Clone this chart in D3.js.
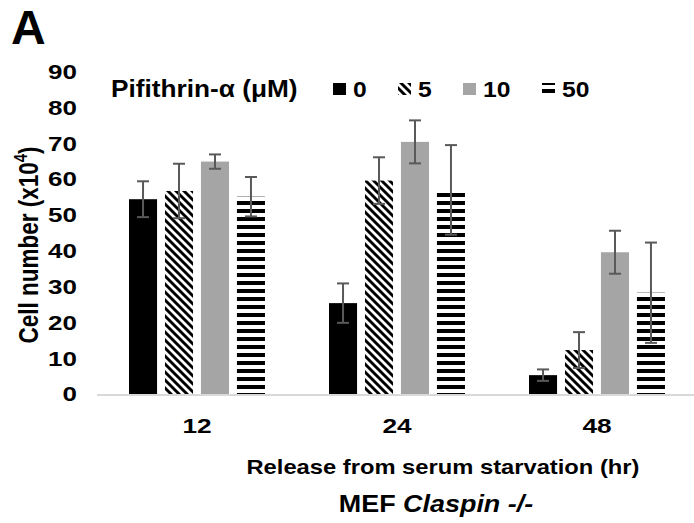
<!DOCTYPE html>
<html>
<head>
<meta charset="utf-8">
<script src="https://cdnjs.cloudflare.com/ajax/libs/d3/7.8.5/d3.min.js"></script>
<style>
  body { margin: 0; background: white; }
  text { font-family: "Liberation Sans", Arial, sans-serif; font-weight: bold; }
</style>
</head>
<body>
<script>
// hours after release, pifithrin doses
var times = ["12", "24", "48"];
var doses = ["0", "5", "10", "50"];
var yTicks = [0, 10, 20, 30, 40, 50, 60, 70, 80, 90];

// mean cell number (x10^4) per dose, one value per time point
var dose0 = [54.5, 25.5, 5.4];
var dose5 = [56.8, 59.7, 12.4];
var dose10 = [65.0, 70.5, 39.7];
var dose50 = [55.2, 57.1, 28.4];
// error (half length of error bar)
var err0 = [5.0, 5.5, 1.6];
var err5 = [7.6, 6.5, 5.0];
var err10 = [2.0, 6.0, 6.0];
var err50 = [5.5, 12.5, 14.0];

var means = [dose0, dose5, dose10, dose50];
var errs = [err0, err5, err10, err50];

var width = 694, height = 523;

var svg = d3.select("body").append("svg")
    .attr("width", width)
    .attr("height", height);

// the original figure's lettering is a bit wider than plain Arial bold
function widen(sel, f) {
    sel.each(function() {
        var len = this.getComputedTextLength();
        d3.select(this).attr("textLength", len * f).attr("lengthAdjust", "spacingAndGlyphs");
    });
}

var defs = svg.append("defs");

// wide downward diagonal
var hatch = defs.append("pattern")
    .attr("id", "hatch")
    .attr("patternUnits", "userSpaceOnUse")
    .attr("width", 8).attr("height", 8);
hatch.append("rect").attr("width", 8).attr("height", 8).attr("fill", "white");
hatch.append("path")
    .attr("d", "M-2,-2L10,10M-2,6L2,10M6,-2L10,2")
    .attr("stroke", "black")
    .attr("stroke-width", 2.9);

// wide horizontal stripes
var stripes = defs.append("pattern")
    .attr("id", "stripes")
    .attr("patternUnits", "userSpaceOnUse")
    .attr("width", 8).attr("height", 8);
stripes.append("rect").attr("width", 8).attr("height", 8).attr("fill", "white");
stripes.append("rect").attr("y", 1).attr("width", 8).attr("height", 4).attr("fill", "black");

var fills = ["#000000", "url(#hatch)", "#a5a5a5", "url(#stripes)"];

var x0 = d3.scaleBand()
    .domain(times)
    .range([97, 697]);

var x1 = d3.scaleBand()
    .domain(doses)
    .range([32, 168])
    .paddingInner(0.22);

var y = d3.scaleLinear()
    .domain([0, 90])
    .range([394.5, 72]);

// bars
var groups = svg.append("g").selectAll("g")
    .data(times)
    .enter().append("g")
    .attr("transform", function(d) { return "translate(" + x0(d) + ",0)"; });

groups.selectAll("rect")
    .data(function(t, i) {
        return doses.map(function(d, j) { return {dose: d, j: j, v: means[j][i], e: errs[j][i]}; });
    })
    .enter().append("rect")
    .attr("x", function(d) { return x1(d.dose); })
    .attr("y", function(d) { return y(d.v); })
    .attr("width", x1.bandwidth())
    .attr("height", function(d) { return y(0) - y(d.v); })
    .attr("fill", function(d) { return fills[d.j]; });

// error bars
var eb = groups.selectAll("g.err")
    .data(function(t, i) {
        return doses.map(function(d, j) { return {dose: d, v: means[j][i], e: errs[j][i]}; });
    })
    .enter().append("g")
    .attr("class", "err")
    .attr("stroke", "#595959")
    .attr("stroke-width", 2);

eb.append("line")
    .attr("x1", function(d) { return x1(d.dose) + x1.bandwidth() / 2; })
    .attr("x2", function(d) { return x1(d.dose) + x1.bandwidth() / 2; })
    .attr("y1", function(d) { return y(d.v + d.e); })
    .attr("y2", function(d) { return y(d.v - d.e); });
eb.selectAll("line.cap")
    .data(function(d) { return [{d: d, val: d.v + d.e}, {d: d, val: d.v - d.e}]; })
    .enter().append("line")
    .attr("class", "cap")
    .attr("x1", function(c) { return x1(c.d.dose) + x1.bandwidth() / 2 - 6; })
    .attr("x2", function(c) { return x1(c.d.dose) + x1.bandwidth() / 2 + 6; })
    .attr("y1", function(c) { return y(c.val); })
    .attr("y2", function(c) { return y(c.val); });

// x axis line
svg.append("line")
    .attr("x1", 97).attr("x2", 694)
    .attr("y1", y(0) + 0.5).attr("y2", y(0) + 0.5)
    .attr("stroke", "#d9d9d9")
    .attr("stroke-width", 2);

// y axis
var yAxis = svg.append("g")
    .attr("transform", "translate(77,0)")
    .call(d3.axisLeft(y).tickValues(yTicks).tickSize(0).tickPadding(0));
yAxis.select(".domain").remove();
yAxis.selectAll("text")
    .style("font-size", "20px")
    .attr("fill", "black")
    .call(widen, 1.3);

// x axis labels
var xAxis = svg.append("g")
    .attr("transform", "translate(0," + y(0) + ")")
    .call(d3.axisBottom(x0).tickSize(0).tickPadding(0));
xAxis.select(".domain").remove();
xAxis.selectAll("text")
    .attr("dy", null)
    .attr("y", 433 - y(0))
    .style("font-size", "21px")
    .attr("fill", "black")
    .call(widen, 1.25);

// axis titles
svg.append("text")
    .attr("x", 443).attr("y", 474)
    .attr("text-anchor", "middle")
    .style("font-size", "21px")
    .text("Release from serum starvation (hr)")
    .call(widen, 1.13);

var sub = svg.append("text")
    .attr("x", 436).attr("y", 512)
    .attr("text-anchor", "middle")
    .style("font-size", "23px");
sub.append("tspan").text("MEF ");
sub.append("tspan").style("font-style", "italic").text("Claspin -/-");
sub.call(widen, 1.17);

// rotated title, stretched across the page like the rest of the lettering
var yt = svg.append("text")
    .attr("transform", "translate(38,245) rotate(-90) scale(1,1.2)")
    .attr("text-anchor", "middle")
    .style("font-size", "22.5px");
yt.append("tspan").text("Cell number (x10");
yt.append("tspan").attr("dy", -9).style("font-size", "15px").text("4");
yt.append("tspan").attr("dy", 9).text(")");

// panel letter
svg.append("text")
    .attr("x", 11).attr("y", 44)
    .style("font-size", "48px")
    .text("A");

// legend
svg.append("text")
    .attr("x", 111).attr("y", 97)
    .style("font-size", "23px")
    .text("Pifithrin-\u03b1 (\u03bcM)")
    .call(widen, 1.14);

var legX = [333, 398, 463, 542];
var leg = svg.append("g").selectAll("g")
    .data(doses)
    .enter().append("g")
    .attr("transform", function(d, i) { return "translate(" + legX[i] + ",0)"; });
leg.append("rect")
    .attr("x", 0).attr("y", 83)
    .attr("width", 13).attr("height", 12)
    .attr("fill", function(d, i) { return fills[i]; });
leg.append("text")
    .attr("x", 20).attr("y", 97)
    .style("font-size", "22px")
    .text(function(d) { return d; })
    .call(widen, 1.12);
</script>
</body>
</html>
